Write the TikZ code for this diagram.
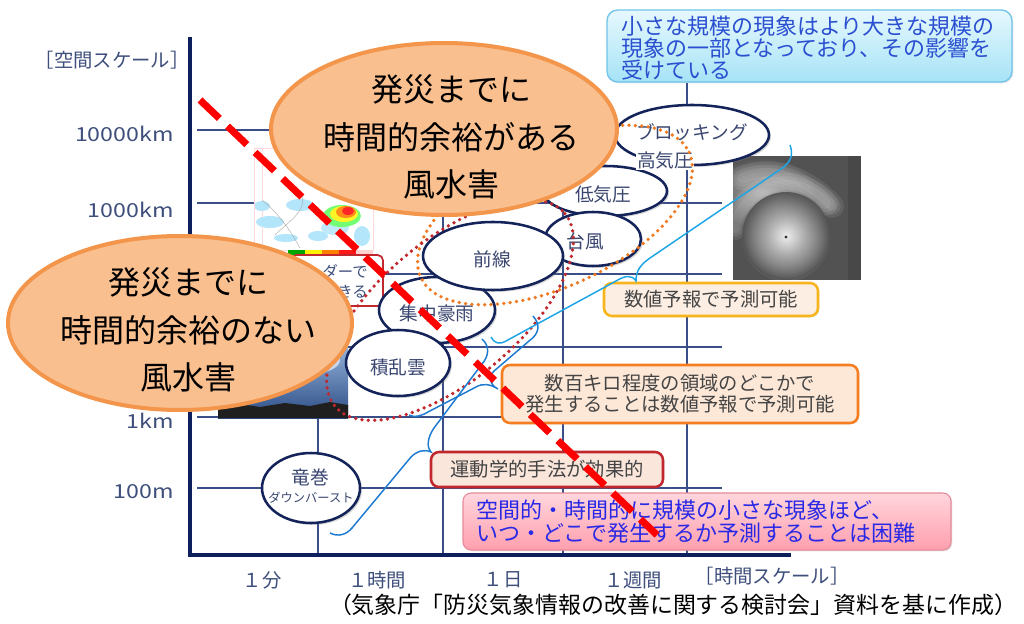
\documentclass[tikz,border=0pt]{standalone}
\usepackage{fontspec}
\setmainfont{Noto Sans CJK JP}
\newfontfamily\widefont[FakeStretch=1.2]{Noto Sans CJK JP}
\usetikzlibrary{shapes.geometric,shadows}
\definecolor{axisnavy}{HTML}{0D1F5C}
\definecolor{gridblue}{HTML}{3A4F8A}
\definecolor{labelc}{HTML}{3E4F7C}
\definecolor{ellnavy}{HTML}{14245A}
\definecolor{elltext}{HTML}{3A4670}
\definecolor{orfill}{HTML}{F9BF8F}
\definecolor{ordraw}{HTML}{F3954B}
\definecolor{dotor}{HTML}{F07A22}
\definecolor{dotred}{HTML}{C0282D}
\definecolor{goldb}{HTML}{F7B51B}
\definecolor{peachA}{HTML}{FDEEE3}
\definecolor{orangeb}{HTML}{F57D20}
\definecolor{peachB}{HTML}{FDE8D8}
\definecolor{redb}{HTML}{C0282D}
\definecolor{peachC}{HTML}{FBE6DC}
\definecolor{pinktop}{HTML}{FFD6DD}
\definecolor{pinkbot}{HTML}{FF9FAE}
\definecolor{pinkb}{HTML}{E58A98}
\definecolor{pinktext}{HTML}{2828E6}
\definecolor{bluetop}{HTML}{E6F8FD}
\definecolor{bluebot}{HTML}{A6E3F7}
\definecolor{blueb}{HTML}{70C4EA}
\definecolor{bluetext}{HTML}{2A4FD0}
\definecolor{braceA}{HTML}{1EA5E6}
\definecolor{braceB}{HTML}{1E7AD0}
\definecolor{boxtext}{HTML}{444444}
\definecolor{skytop}{HTML}{A4C2E6}
\definecolor{skybot}{HTML}{2B4C86}
\tikzset{
 gridline/.style={draw=gridblue, line width=1.1pt},
 axisline/.style={draw=axisnavy, line width=3pt},
 axlab/.style={font=\fontsize{14.5}{16}\selectfont, text=labelc, inner sep=0pt},
 numlab/.style={font=\widefont\fontsize{14.5}{16}\selectfont, text=labelc, inner sep=0pt},
 navyell/.style={ellipse, draw=ellnavy, line width=1.9pt, fill=white, inner sep=0pt,
   drop shadow={shadow xshift=1.5pt,shadow yshift=-1.5pt,opacity=0.3}},
 elltxt/.style={font=\fontsize{14}{16}\selectfont, text=elltext, inner sep=0pt},
 orell/.style={ellipse, draw=ordraw, line width=3pt, fill=orfill, inner sep=0pt},
 ortxt/.style={font=\fontsize{24}{35.6}\selectfont, text=black, align=center, inner sep=0pt},
 infobox/.style={rectangle, rounded corners=6pt, line width=1.9pt, inner sep=0pt,
   font=\fontsize{14.5}{15.8}\selectfont, text=boxtext, align=center,
   drop shadow={shadow xshift=1pt,shadow yshift=-1pt,opacity=0.2}},
 dotline/.style={line width=2.8pt, line cap=round, dash pattern=on 0pt off 4.8pt},
 bracelA/.style={draw=braceA, line width=1.1pt},
 bracelB/.style={draw=braceB, line width=1.1pt},
 reddash/.style={draw=red, line width=5.3pt, dash pattern=on 20pt off 8.5pt},
 softband/.style={white, opacity=0.09, line cap=round},
}
\begin{document}
\begin{tikzpicture}[x=0.75pt,y=-0.75pt]
\useasboundingbox (0,0) rectangle (1024,624);
\fill[white] (0,0) rectangle (1024,624);

% grid
\foreach \yy in {130,203,274,347,417,488} \draw[gridline] (197,\yy) -- (722,\yy);
\foreach \xx in {318,443,563,687} \draw[gridline] (\xx,83) -- (\xx,553);
% axes
\draw[axisline] (190,37) -- (190,555) -- (791,555);

% axis labels
\node[axlab] (ysc) at (112,60) {［空間スケール］};
\node[numlab, anchor=east] (l10000) at (174,134) {10000km};
\node[numlab, anchor=east] (l1000) at (174,210) {1000km};
\node[numlab, anchor=east] (l1) at (174,421) {1km};
\node[numlab, anchor=east] (l100m) at (174,492) {100m};
\node[axlab] (xmin) at (262,580) {１分};
\node[axlab] (xhour) at (377,580) {１時間};
\node[axlab] (xday) at (503,580) {１日};
\node[axlab] (xweek) at (633,580) {１週間};
\node[axlab] (xsc) at (772,576) {［時間スケール］};

% radar image
\begin{scope}
\clip (254,148) rectangle (373,250);
\fill[white] (254,148) rectangle (373,250);
\draw[pink!60, line width=0.4pt] (262,148) -- (262,250);
\fill[cyan!30] (270,222) ellipse [x radius=14, y radius=6];
\fill[cyan!30] (300,205) ellipse [x radius=14, y radius=6];
\fill[cyan!30] (286,238) ellipse [x radius=12, y radius=4];
\fill[cyan!30] (362,236) ellipse [x radius=8, y radius=10];
\fill[cyan!30] (318,236) ellipse [x radius=10, y radius=5];
\fill[cyan!30] (262,206) ellipse [x radius=8, y radius=5];
\fill[cyan!25] (335,228) ellipse [x radius=14, y radius=7];
\draw[gray!70, line width=0.3pt] (262,200) .. controls (280,215) and (290,230) .. (300,248);
\draw[gray!70, line width=0.3pt] (300,190) .. controls (310,210) and (290,220) .. (275,235);
\fill[green!55] (342,216) ellipse [x radius=19, y radius=11];
\fill[yellow!85] (344,214) ellipse [x radius=14, y radius=8];
\fill[orange!90] (346,212) ellipse [x radius=10, y radius=6];
\fill[red!85] (348,211) ellipse [x radius=6, y radius=4];
\end{scope}
\draw[pink!60, line width=0.5pt] (254,148) rectangle (373,250);
\fill[green!65!black] (288,250) rectangle (305,255);
\fill[yellow] (305,250) rectangle (322,255);
\fill[orange] (322,250) rectangle (339,255);
\fill[red!90] (339,250) rectangle (356,255);
\fill[pink!70] (356,250) rectangle (373,255);

% radar label box
\node[rectangle, rounded corners=4pt, draw=redb, line width=1.3pt, fill=white,
  minimum width=69pt, minimum height=38.25pt, inner sep=0pt] (radarbox) at (337,280.5) {};
\node[anchor=east, font=\fontsize{11.5}{13}\selectfont, text=labelc, inner sep=0pt] (rt1) at (368,272) {ダーで};
\node[anchor=east, font=\fontsize{11.5}{13}\selectfont, text=labelc, inner sep=0pt] (rt2) at (368,292) {きる};

% cumulonimbus photo
\shade[top color=skytop, bottom color=skybot] (218,335) rectangle (348,418);
\fill[white, opacity=0.6] (310,360) ellipse [x radius=30, y radius=14];
\fill[black!88] (218,406) -- (240,404) -- (260,407) -- (285,403) -- (310,406) -- (330,402) -- (348,405) -- (348,418) -- (218,418) -- cycle;

% typhoon image
\begin{scope}
\clip (733,156) rectangle (861,280);
\fill[black!68] (733,156) rectangle (861,280);
\shade[inner color=black!35, outer color=black!68] (762,192) ellipse [x radius=55, y radius=35];
\foreach \w in {18,13,8} {
  \draw[softband, line width=\w pt] (786,237) ++(10:32) arc[start angle=10, end angle=250, radius=32];
  \draw[softband, line width=\w pt] (786,237) ++(190:52) arc[start angle=190, end angle=320, radius=52];
  \draw[softband, line width=\w pt] (742,178) .. controls (772,166) and (806,178) .. (832,206);
}
\shade[inner color=white, outer color=black!68, opacity=0.9] (786,236) circle (44);
\fill[black!80] (786,237) circle (1.6);
\fill[black!75, opacity=0.5] (848,156) rectangle (861,280);
\end{scope}

% navy ellipses
\node[navyell, minimum width=115.5pt, minimum height=45pt] (blk) at (692,135) {};
\node[elltxt] (tblk) at (692,132) {ブロッキング};
\node[navyell, minimum width=93pt, minimum height=37.5pt] (low) at (605,191) {};
\node[elltxt] (tlow) at (603,194) {低気圧};
\node[elltxt, fill=white, inner sep=1pt] (thigh) at (665,160) {高気圧};
\node[navyell, minimum width=72pt, minimum height=40.5pt] (typh) at (593,239) {};
\node[elltxt] (ttyph) at (585,241) {台風};
\node[navyell, minimum width=87pt, minimum height=49.5pt] (heavy) at (437,310) {};
\node[elltxt] (theavy) at (437,313) {集中豪雨};
\node[navyell, minimum width=105pt, minimum height=51pt] (front) at (493,256) {};
\node[elltxt] (tfront) at (492,259) {前線};
\node[navyell, minimum width=78pt, minimum height=49.5pt] (cb) at (398,363) {};
\node[elltxt] (tcb) at (398,367) {積乱雲};
\node[navyell, minimum width=73.5pt, minimum height=52.5pt] (torn) at (311,488) {};
\node[elltxt] (ttorn) at (310,477) {竜巻};
\node[font=\fontsize{9.2}{10}\selectfont, text=elltext, inner sep=0pt] (tdown) at (311,498) {ダウンバースト};

% dotted groupings
\coordinate (og) at (555,215);
\coordinate (rg) at (450,310);
\draw[dotor, dotline, rotate around={25:(og)}] (og) ellipse [x radius=148, y radius=71];
\draw[dotred, dotline, rotate around={40:(rg)}] (rg) ellipse [x radius=150, y radius=70];

% boxes
\node[infobox, draw=blueb, top color=bluetop, bottom color=bluebot,
  minimum width=303.75pt, minimum height=54pt, rounded corners=8pt, line width=1pt] (bscale) at (809.5,46) {};
\node[anchor=west, align=left, font=\fontsize{16.5}{16.2}\selectfont, text=bluetext, inner sep=0pt] (tscale) at (621,48)
  {小さな規模の現象はより大きな規模の\\現象の一部となっており、その影響を\\受けている};
\node[infobox, draw=goldb, fill=peachA, minimum width=160.5pt, minimum height=24.75pt] (bnum) at (711,299.5) {数値予報で予測可能};
\node[infobox, draw=orangeb, fill=peachB, minimum width=267pt, minimum height=43.5pt] (bsev) at (680,394)
  {数百キロ程度の領域のどこかで\\発生することは数値予報で予測可能};
\node[infobox, draw=redb, fill=peachC, minimum width=174pt, minimum height=26.25pt] (bkin) at (547,469.5) {運動学的手法が効果的};
\node[infobox, draw=pinkb, top color=pinktop, bottom color=pinkbot, line width=0.8pt,
  minimum width=366pt, minimum height=42.75pt] (bdiff) at (707,521.5) {};
\node[anchor=west, align=left, font=\fontsize{16.5}{17.3}\selectfont, text=pinktext, inner sep=0pt] (tdiff) at (476,521.5)
  {空間的・時間的に規模の小さな現象ほど、\\いつ・どこで発生するか予測することは困難};

% braces
\draw[bracelA] (790,145) .. controls (794,156) and (790,164) .. (778,171) -- (650,258)
  .. controls (640,265) and (636,271) .. (636,281)
  .. controls (632,275) and (626,275) .. (616,281) -- (506,341)
  .. controls (499,345) and (494,343) .. (491,337);
\draw[bracelB] (533,316) .. controls (541,325) and (539,334) .. (529,341) -- (494,371)
  .. controls (488,377) and (490,385) .. (498,389)
  .. controls (490,384) and (483,383) .. (476,387) -- (428,412)
  .. controls (421,416) and (415,418) .. (409,415);
\draw[bracelB] (482,339) .. controls (490,346) and (489,356) .. (482,364) -- (434,428)
  .. controls (428,437) and (426,446) .. (431,452)
  .. controls (424,449) and (417,451) .. (411,457) -- (352,528)
  .. controls (346,535) and (338,537) .. (330,533);

% big orange ellipses
\node[orell, minimum width=259.5pt, minimum height=129pt] (oe1) at (444,129) {};
\node[ortxt] (oe1t) at (451,137) {発災までに\\時間的余裕がある\\風水害};
\node[orell, minimum width=258pt, minimum height=130.5pt] (oe2) at (180,323) {};
\node[ortxt] (oe2t) at (188,330) {発災までに\\時間的余裕のない\\風水害};

% red dashed divider
\coordinate (dstart) at (200,100);
\coordinate (dend) at (657,535);
\draw[reddash] (dstart) -- (dend);

% caption
\node[font=\fontsize{17.2}{19}\selectfont, text=black, inner sep=0pt] (cap) at (673,605)
  {（気象庁「防災気象情報の改善に関する検討会」資料を基に作成）};
\end{tikzpicture}
\end{document}
